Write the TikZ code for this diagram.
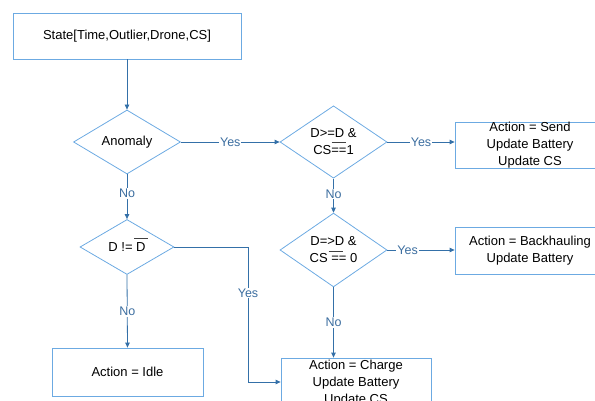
\documentclass[tikz,border=0pt]{standalone}
\usepackage{fontspec}
\setmainfont{Liberation Sans}
\usetikzlibrary{shapes.geometric,arrows.meta}
\definecolor{bordercol}{RGB}{108,170,226}
\definecolor{arrowcol}{RGB}{52,112,168}
\definecolor{labelcol}{RGB}{60,110,160}
\begin{document}
\begin{tikzpicture}[x=1pt,y=-1pt,
  font=\fontsize{13}{17}\selectfont,
  box/.style={draw=bordercol,line width=0.8pt,rectangle,inner sep=0pt,align=center,text=black},
  decision/.style={draw=bordercol,line width=0.8pt,diamond,inner sep=0pt,align=center,text=black},
  conn/.style={draw=arrowcol,line width=0.8pt,-{Triangle[length=5pt,width=4.5pt]}},
  lbl/.style={fill=white,text=labelcol,inner sep=1pt,font=\fontsize{12.5}{15}\selectfont},
  bar/.style={draw=black!75,line width=0.6pt}]
\useasboundingbox (0,0) rectangle (595,401);
\clip (0,0) rectangle (595,401);

\node[box,minimum width=228pt,minimum height=46pt] (state) at (127,36) {State[Time,Outlier,Drone,CS]};
\node[decision,minimum width=107pt,minimum height=64pt] (anom) at (127,142) {Anomaly};
\node[decision,minimum width=107pt,minimum height=64pt] (dtwo) at (333.5,142) {D>=D \&\\CS==1};
\node[box,minimum width=150pt,minimum height=46pt] (send) at (530,145) {Action = Send\\Update Battery\\Update CS};
\node[decision,minimum width=107pt,minimum height=64pt] (dthree) at (333.5,250) {D=>D \&\\CS == 0};
\node[box,minimum width=150pt,minimum height=47pt] (back) at (530,250.5) {Action = Backhauling\\Update Battery};
\node[decision,minimum width=94pt,minimum height=55pt] (dne) at (127,247) {D != D};
\node[box,minimum width=151pt,minimum height=48pt] (idle) at (127.5,372) {Action = Idle};
\node[box,minimum width=150pt,minimum height=50pt] (charge) at (356,383) {Action = Charge\\Update Battery\\Update CS};

% bars of the conditions
\draw[bar] ([xshift=-2pt]dtwo.center) -- ([xshift=12pt]dtwo.center);
\draw[bar] ([xshift=-5pt,yshift=-1pt]dthree.center) -- ([xshift=9pt,yshift=-1pt]dthree.center);
\draw[bar] ([xshift=7pt,yshift=9pt]dne.center) -- ([xshift=21pt,yshift=9pt]dne.center);

% connectors
\draw[conn] (state.south) -- (anom.north);
\draw[conn] (anom.east) -- node[lbl] (y1) {Yes} (dtwo.west);
\draw[conn] (dtwo.east) -- node[lbl] (y2) {Yes} (dtwo.east -| send.west);
\draw[conn] (dtwo.south) -- node[lbl,pos=0.45] (n1) {No} (dthree.north);
\draw[conn] (dthree.east) -- node[lbl,pos=0.3] (y3) {Yes} (dthree.east -| back.west);
\draw[conn] (anom.south) -- node[lbl,pos=0.42] (n2) {No} (dne.north);
\coordinate (bend1) at (248,247);
\coordinate (bend2) at (248,382);
\draw[conn] (dne.east) -- (bend1) -- node[lbl,pos=0.34] (y4) {Yes} (bend2) -- (charge.west |- bend2);
\draw[conn] (dne.south) -- node[lbl,pos=0.5] (n3) {No} (idle.north);
\draw[conn] (dthree.south) -- node[lbl,pos=0.5] (n4) {No} (dthree.south |- charge.north);
\end{tikzpicture}
\end{document}
